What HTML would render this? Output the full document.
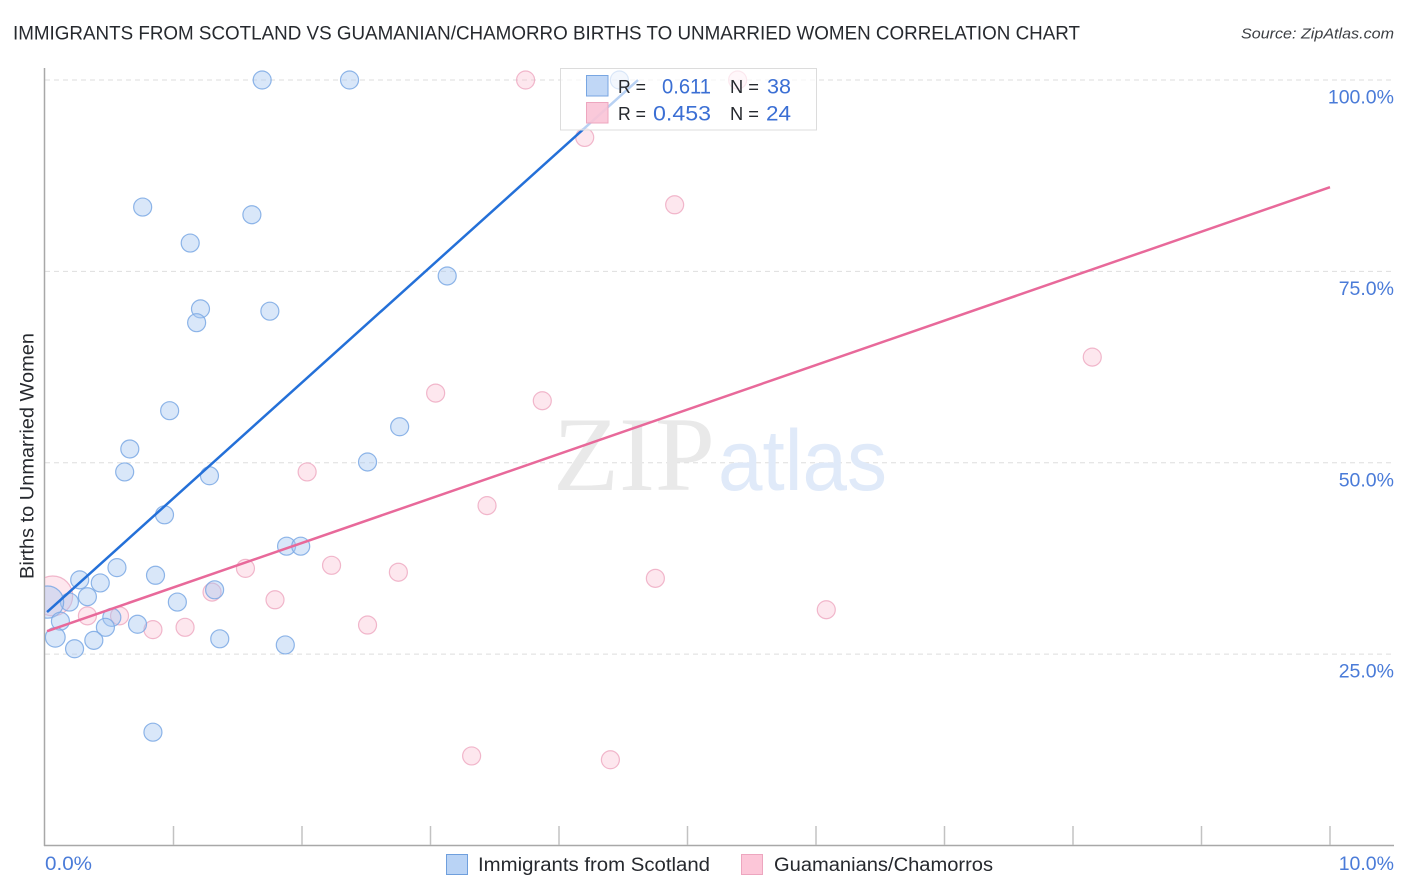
<!DOCTYPE html>
<html>
<head>
<meta charset="utf-8">
<title>Births to Unmarried Women Correlation Chart</title>
<style>
html,body{margin:0;padding:0;background:#fff;width:1406px;height:892px;overflow:hidden}
svg{display:block}
text{font-family:"Liberation Sans",sans-serif}
</style>
</head>
<body>
<svg id="chart" width="1406" height="892" viewBox="0 0 1406 892" xmlns="http://www.w3.org/2000/svg">
  <defs><clipPath id="plot-clip"><rect x="45" y="60" width="1349" height="785.5"/></clipPath></defs>
  <text x="13" y="39.500" font-size="19.500" fill="#26292e" textLength="1067" lengthAdjust="spacingAndGlyphs">IMMIGRANTS FROM SCOTLAND VS GUAMANIAN/CHAMORRO BIRTHS TO UNMARRIED WOMEN CORRELATION CHART</text>
  <text x="1241" y="38.500" font-size="15" font-style="italic" fill="#3c3f44" textLength="153" lengthAdjust="spacingAndGlyphs">Source: ZipAtlas.com</text>
  <text transform="translate(33.500,579) rotate(-90)" font-size="19" fill="#26292e" textLength="246" lengthAdjust="spacingAndGlyphs">Births to Unmarried Women</text>
  <g id="grid"></g>
  <g>
    <text x="553" y="490" font-size="106" fill="#e9e9e9" textLength="162" lengthAdjust="spacingAndGlyphs" style="font-family:'Liberation Serif',serif">ZIP</text>
    <text x="718" y="490" font-size="86" fill="#e0eaf9" textLength="169" lengthAdjust="spacingAndGlyphs">atlas</text>
  </g>
  <g id="axes"></g>
  <g id="marks" clip-path="url(#plot-clip)"></g>
  <g id="trends" clip-path="url(#plot-clip)"></g>
  <g id="labels"></g>
  <g>
    <rect x="560.500" y="68.500" width="256" height="61.500" fill="#fff" fill-opacity="0.68" stroke="#dcdcdc"/>
    <rect x="586.500" y="75.500" width="21.500" height="20.500" fill="#b9d3f5" fill-opacity="0.9" stroke="#78a6e2"/>
    <rect x="586.500" y="102.500" width="21.500" height="20.500" fill="#f9c3d6" fill-opacity="0.9" stroke="#eda6bf"/>
    <text x="618" y="93" font-size="18.500" fill="#26292e" textLength="28" lengthAdjust="spacingAndGlyphs">R =</text>
    <text x="662" y="93.500" font-size="21" fill="#3b6fd4" textLength="49" lengthAdjust="spacingAndGlyphs">0.611</text>
    <text x="730" y="93" font-size="18.500" fill="#26292e" textLength="29" lengthAdjust="spacingAndGlyphs">N =</text>
    <text x="767" y="93.500" font-size="21" fill="#3b6fd4" textLength="24" lengthAdjust="spacingAndGlyphs">38</text>
    <text x="618" y="120" font-size="18.500" fill="#26292e" textLength="28" lengthAdjust="spacingAndGlyphs">R =</text>
    <text x="653" y="120.500" font-size="21" fill="#3b6fd4" textLength="58" lengthAdjust="spacingAndGlyphs">0.453</text>
    <text x="730" y="120" font-size="18.500" fill="#26292e" textLength="29" lengthAdjust="spacingAndGlyphs">N =</text>
    <text x="766" y="120.500" font-size="21" fill="#3b6fd4" textLength="25" lengthAdjust="spacingAndGlyphs">24</text>
  </g>
  <g>
    <rect x="446.500" y="854.500" width="21" height="20" fill="#b9d3f5" stroke="#6f9fdd"/>
    <text x="478" y="871" font-size="19" fill="#26292e" textLength="232" lengthAdjust="spacingAndGlyphs">Immigrants from Scotland</text>
    <rect x="741.500" y="854.500" width="21" height="20" fill="#fcc6d8" stroke="#eda6bf"/>
    <text x="774" y="871" font-size="19" fill="#26292e" textLength="219" lengthAdjust="spacingAndGlyphs">Guamanians/Chamorros</text>
  </g>
</svg>
<script>
// Chart data (x and y in percent)
const scotlandX = [1.69,2.37,4.47,0.76,1.61,1.13,1.21,1.75,1.18,3.13,0.97,2.76,0.66,2.51,0.62,1.28,0.93,1.88,1.99,0.56,0.86,0.27,0.43,1.32,0.33,0.19,1.03,0.02,0.12,0.52,0.47,0.72,0.08,0.38,1.36,0.23,1.87,0.84];
const scotlandY = [100,100,100,83.4,82.4,78.7,70.1,69.8,68.3,74.4,56.8,54.7,51.8,50.1,48.8,48.3,43.2,39.1,39.1,36.3,35.3,34.7,34.3,33.4,32.5,31.8,31.8,31.8,29.3,29.8,28.5,28.9,27.2,26.8,27.0,25.7,26.2,14.8];
const scotlandWeight = [1,1,1,1,1,1,1,1,1,1,1,1,1,1,1,1,1,1,1,1,1,1,1,1,1,1,1,3.2,1,1,1,1,1.2,1,1,1,1,1];
const guamanianX = [3.74,5.39,4.20,4.90,8.15,3.04,3.87,2.04,3.44,1.56,2.23,2.75,4.75,1.30,1.79,6.08,2.51,0.33,0.58,0.84,1.09,3.32,4.40,0.06];
const guamanianY = [100,100,92.5,83.7,63.8,59.1,58.1,48.8,44.4,36.2,36.6,35.7,34.9,33.1,32.1,30.8,28.8,30.0,30.0,28.2,28.5,11.7,11.2,32.6];
const guamanianWeight = [1,1,1,1,1,1,1,1,1,1,1,1,1,1,1,1,1,1,1,1,1,1,1,4.9];
const scotlandTrendX = [0.016,4.615];
const scotlandTrendY = [30.5,100];
const guamanianTrendX = [0.016,10];
const guamanianTrendY = [28.0,86.0];
const xTicks = [0,1,2,3,4,5,6,7,8,9,10];
const xTickLabels = ["0.0%","10.0%"];
const yTicks = [25,50,75,100];
const yTickLabels = ["25.0%","50.0%","75.0%","100.0%"];

const NS = 'http://www.w3.org/2000/svg';
const xScale = v => 45 + v * 128.5;
const yScale = v => 845.5 - v * 7.655;

function make(parent, tag, attrs, text) {
  const el = document.createElementNS(NS, tag);
  for (const k in attrs) el.setAttribute(k, attrs[k]);
  if (text !== undefined) el.textContent = text;
  parent.appendChild(el);
  return el;
}

const grid = document.getElementById('grid');
const axes = document.getElementById('axes');
const marks = document.getElementById('marks');
const trends = document.getElementById('trends');
const labels = document.getElementById('labels');

yTicks.forEach((t, i) => {
  const line = make(grid, 'line', {x1: 45, x2: 1394, y1: yScale(t), y2: yScale(t), stroke: '#dedede', 'stroke-width': 1, 'stroke-dasharray': '5 4'});
  
  
  const label = make(labels, 'text', {x: 1394, y: yScale(t) + 23.500, 'text-anchor': 'end', 'font-size': 19.500, fill: '#4a7bd8'}, yTickLabels[i]);
  
  
});

const yAxis = make(axes, 'line', {x1: 44.500, x2: 44.500, y1: 68, y2: 846, stroke: '#a8a8a8', 'stroke-width': 1.500});


const xAxis = make(axes, 'line', {x1: 44, x2: 1394, y1: 845.500, y2: 845.500, stroke: '#a8a8a8', 'stroke-width': 1.500});



xTicks.slice(1).forEach(t => {
  const tick = make(axes, 'line', {x1: xScale(t), x2: xScale(t), y1: 826, y2: 845, stroke: '#c2c2c2', 'stroke-width': 1.500});
  
  
});

const xLabelLeft = make(labels, 'text', {x: 45, y: 870, 'font-size': 19.500, fill: '#4a7bd8', textLength: 47, lengthAdjust: 'spacingAndGlyphs'}, xTickLabels[0]);


const xLabelRight = make(labels, 'text', {x: 1394, y: 870, 'text-anchor': 'end', 'font-size': 19.500, fill: '#4a7bd8'}, xTickLabels[1]);



guamanianX.forEach((x, i) => {
  const c = make(marks, 'circle', {cx: xScale(x), cy: yScale(guamanianY[i]), r: 9 * Math.sqrt(guamanianWeight[i]), fill: '#f8b4ca', 'fill-opacity': 0.32, stroke: '#eda6bf', 'stroke-opacity': 0.8, 'stroke-width': 1.200});
  
  
});
scotlandX.forEach((x, i) => {
  const c = make(marks, 'circle', {cx: xScale(x), cy: yScale(scotlandY[i]), r: 9 * Math.sqrt(scotlandWeight[i]), fill: '#a5c6f0', 'fill-opacity': 0.42, stroke: '#7aa8e4', 'stroke-opacity': 0.85, 'stroke-width': 1.200});
  
  
});

const blueTrend = make(trends, 'line', {x1: xScale(scotlandTrendX[0]), y1: yScale(scotlandTrendY[0]), x2: xScale(scotlandTrendX[1]), y2: yScale(scotlandTrendY[1]), stroke: '#2470d8', 'stroke-width': 2.500});


const pinkTrend = make(trends, 'line', {x1: xScale(guamanianTrendX[0]), y1: yScale(guamanianTrendY[0]), x2: xScale(guamanianTrendX[1]), y2: yScale(guamanianTrendY[1]), stroke: '#e8699a', 'stroke-width': 2.500});


</script>
</body>
</html>
